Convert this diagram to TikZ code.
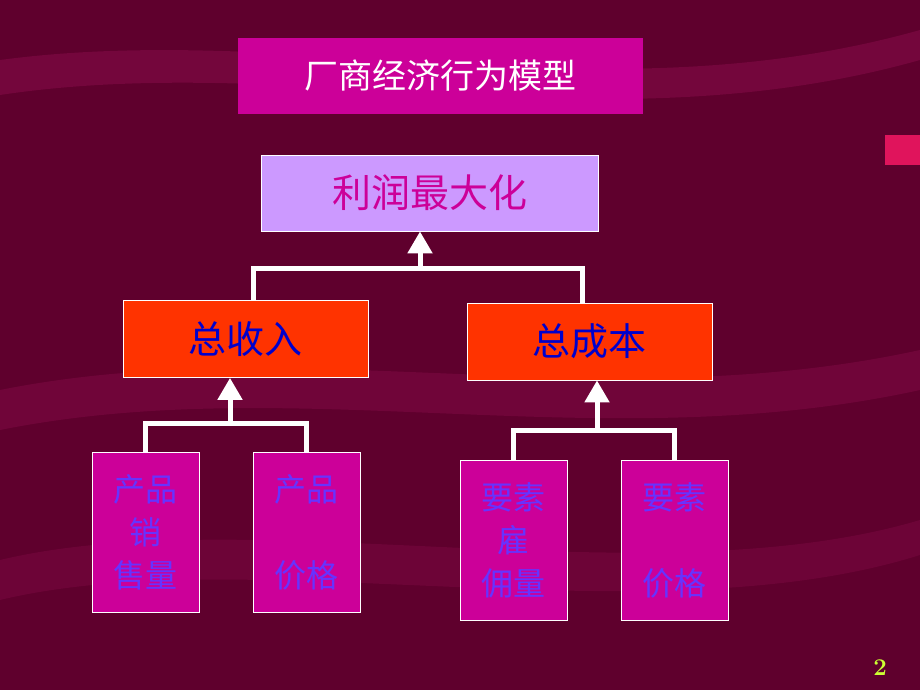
\documentclass[tikz,border=0pt]{standalone}
\usepackage{fontspec}
\newfontfamily\cjk{Noto Sans CJK SC}
\usetikzlibrary{arrows.meta}
\definecolor{bg}{RGB}{95,0,45}
\definecolor{band}{RGB}{130,10,70}
\definecolor{mag}{RGB}{204,0,153}
\definecolor{vio}{RGB}{204,153,255}
\definecolor{redo}{RGB}{255,51,0}
\definecolor{bluet}{RGB}{0,0,204}
\definecolor{purt}{RGB}{102,51,255}
\definecolor{pgn}{RGB}{204,255,51}
\begin{document}
\begin{tikzpicture}[x=1pt,y=-1pt,
  box/.style={draw=white,line width=0.8pt,inner sep=0pt,font=\cjk},
  leaf/.style={box,fill=mag,minimum width=107pt,minimum height=160pt,text=purt,font=\cjk\fontsize{32}{43}\selectfont,align=center},
  mid/.style={box,fill=redo,minimum width=245pt,minimum height=77pt,text=bluet,font=\cjk\fontsize{38}{40}\selectfont},
  con/.style={white,line width=5pt},
  arr/.style={white,line width=5pt,-{Triangle[length=22pt,width=24pt]}}]
\fill[bg] (0,0) rectangle (920,690);
\fill[band,opacity=0.6] (0,60) .. controls (300,20) and (600,120) .. (920,30) -- (920,60) .. controls (600,150) and (300,50) .. (0,95) -- cycle;
\fill[band,opacity=0.5] (0,390) .. controls (300,330) and (600,420) .. (920,350) -- (920,390) .. controls (600,460) and (300,370) .. (0,430) -- cycle;
\fill[band,opacity=0.4] (0,560) .. controls (250,500) and (650,600) .. (920,520) -- (920,555) .. controls (650,640) and (250,540) .. (0,600) -- cycle;
\fill[redo!40!mag] (885,135) rectangle (920,165);
\node[box,fill=mag,draw=none,minimum width=405pt,minimum height=76pt,text=white,font=\cjk\fontsize{34}{36}\selectfont] (t) at (440.5,76) {厂商经济行为模型};
\node[box,fill=vio,minimum width=337pt,minimum height=76pt,text=mag,font=\cjk\fontsize{39}{41}\selectfont] (p) at (429.5,193) {利润最大化};
\node[mid] (r) at (245.5,339) {总收入};
\node[mid] (c) at (589.5,341.5) {总成本};
\node[leaf] (a1) at (145.5,532.5) {产品\\销\\售量};
\node[leaf] (a2) at (306.5,532.5) {产品\\\\价格};
\node[leaf] (b1) at (513.5,540) {要素\\雇\\佣量};
\node[leaf] (b2) at (674.5,540) {要素\\\\价格};
\node[text=pgn,font=\bfseries\fontsize{24}{26}\selectfont] (n) at (880,668) {2};
\coordinate (j1) at (420,268);
\coordinate (j2) at (230,423);
\coordinate (j3) at (597,430);
\draw[con] ([xshift=8pt]r.north) |- (j1) -| ([xshift=-7pt]c.north);
\draw[arr] (j1) -- (p.south -| j1);
\draw[con] (a1.north) |- (j2) -| (a2.north);
\draw[arr] (j2) -- (r.south -| j2);
\draw[con] (b1.north) |- (j3) -| (b2.north);
\draw[arr] (j3) -- (c.south -| j3);
\end{tikzpicture}
\end{document}
